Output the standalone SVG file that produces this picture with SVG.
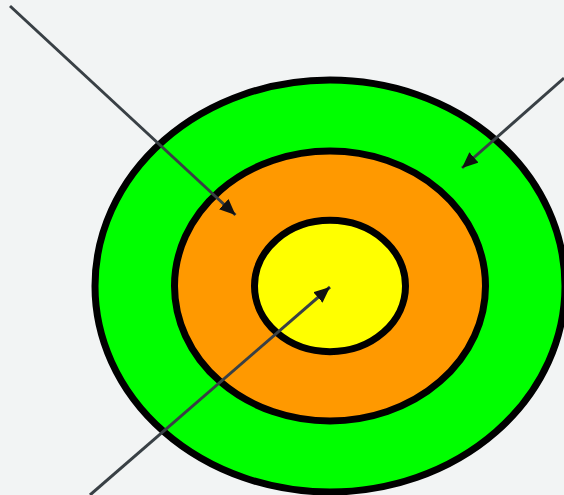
<svg xmlns="http://www.w3.org/2000/svg" width="564" height="495" viewBox="0 0 564 495">
  <style>
    .ring { stroke: #000; stroke-width: 7; }
    .conn { stroke: #394045; stroke-width: 3; fill: none; marker-end: url(#arrow); }
  </style>
  <defs>
    <marker id="arrow" markerUnits="userSpaceOnUse" markerWidth="17" markerHeight="15" refX="16" refY="7" orient="auto">
      <path d="M0,0 L16,7 L0,14 Z" fill="#111"/>
    </marker>
  </defs>
  <rect width="564" height="495" fill="#f2f4f4"/>
  <g id="outer">
    <ellipse class="ring" cx="330" cy="286" rx="235" ry="206" fill="#00ff00"/>
  </g>
  <g id="middle">
    <ellipse class="ring" cx="330" cy="286" rx="155.5" ry="135" fill="#ff9900"/>
  </g>
  <g id="inner">
    <ellipse class="ring" cx="330" cy="286" rx="75.5" ry="65.7" fill="#ffff00"/>
  </g>
  <g id="connectors">
    <line class="conn" x1="10" y1="6" x2="235.5" y2="215"/>
    <line class="conn" x1="564" y1="78" x2="462" y2="168"/>
    <line class="conn" x1="90" y1="495" x2="330" y2="287"/>
  </g>
</svg>
